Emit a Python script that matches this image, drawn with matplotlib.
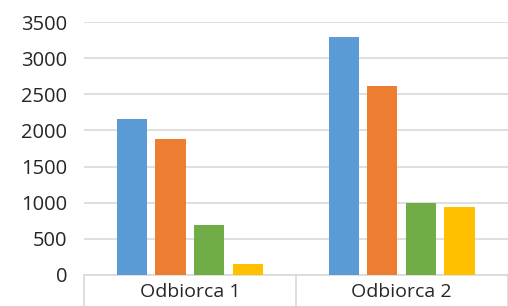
import matplotlib
matplotlib.use("Agg")
import matplotlib.pyplot as plt
import numpy as np

categories = ["Odbiorca 1", "Odbiorca 2"]
series_a = [2160, 3290]
series_b = [1880, 2610]
series_c = [685, 995]
series_d = [155, 945]
colors = ["#5B9BD5", "#ED7D31", "#70AD47", "#FFC000"]
yticks = [0, 500, 1000, 1500, 2000, 2500, 3000, 3500]

plt.rcParams['font.family'] = ['Open Sans', 'DejaVu Sans']

fig = plt.figure(figsize=(5.08, 3.06), dpi=100)
ax = fig.add_axes([84/508, 1-275/306, 1-84/508 - 0.5/508, (275-22)/306])

x = np.arange(len(categories))
step = 0.182
width = 0.143
for i, vals in enumerate([series_a, series_b, series_c, series_d]):
    ax.bar(x + (i - 1.5) * step, vals, width=width, color=colors[i], zorder=3)

ax.set_xlim(-0.5, 1.5)
ax.set_ylim(0, 3500)
ax.set_yticks(yticks)
ax.set_yticklabels([str(v) for v in yticks], fontsize=14.5, color='#262626')
ax.tick_params(axis='y', length=0, pad=12)
ax.yaxis.grid(True, color='#d9d9d9', linewidth=1.2, zorder=0)
ax.set_axisbelow(True)

ax.set_xticks(x)
ax.set_xticklabels(categories, fontsize=14, color='#262626')
ax.tick_params(axis='x', which='major', length=0, pad=6)
ax.set_xticks([-0.5, 0.5, 1.5], minor=True)
ax.tick_params(axis='x', which='minor', length=32, color='#d9d9d9', width=1.2)

for s in ['top', 'right', 'left']:
    ax.spines[s].set_visible(False)
ax.spines['bottom'].set_color('#d9d9d9')
ax.spines['bottom'].set_linewidth(1.2)

fig.savefig("out.png", dpi=100)
